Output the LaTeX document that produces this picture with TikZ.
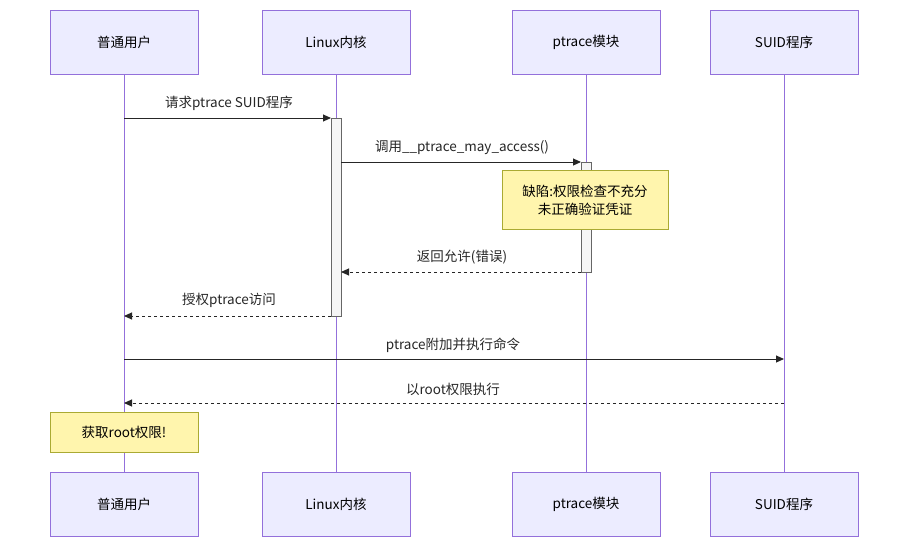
\documentclass[tikz,border=0pt]{standalone}
\usepackage{fontspec}
\setmainfont{Noto Sans CJK SC}
\usetikzlibrary{arrows.meta}
\definecolor{actf}{HTML}{ECECFF}
\definecolor{actd}{HTML}{9370DB}
\definecolor{notef}{HTML}{FFF5AD}
\definecolor{noted}{HTML}{AAAA33}
\begin{document}
\begin{tikzpicture}[x=1pt,y=-1pt,
  actor/.style={draw=actd,fill=actf,minimum width=148pt,minimum height=64pt,inner sep=0,font=\fontsize{13.5}{16}\selectfont},
  life/.style={draw=actd,line width=1pt},
  act/.style={draw=black!60,fill=black!4},
  msg/.style={line width=1pt,-{Triangle[length=8pt,width=7pt]},draw=black!85},
  dmsg/.style={msg,dash pattern=on 3pt off 3pt},
  lbl/.style={font=\fontsize{13.5}{16}\selectfont,text=black!85},
  note/.style={draw=noted,fill=notef,inner sep=0,align=center,font=\fontsize{13.5}{18}\selectfont}]
\useasboundingbox (0,0) rectangle (916,552);
\foreach \n/\x/\t in {u/124/普通用户,k/336/Linux内核,p/586/ptrace模块,s/784/SUID程序}{
  \draw[life] (\x,74) -- (\x,472);
  \node[actor] (\n top) at (\x,42) {\t};
  \node[actor] (\n bot) at (\x,504) {\t};
}
\draw[act] (331,118) rectangle (341,316);
\draw[act] (581,162) rectangle (591,272);
\coordinate (m1a) at (124,118); \coordinate (m1b) at (331,118);
\draw[msg] (m1a) -- (m1b);
\node[lbl] at (229,103) {请求ptrace SUID程序};
\coordinate (m2a) at (341,162); \coordinate (m2b) at (581,162);
\draw[msg] (m2a) -- (m2b);
\node[lbl] at (462,148) {调用\_\_ptrace\_may\_access()};
\node[note,minimum width=166pt,minimum height=59pt] (n1) at (585,200) {缺陷:权限检查不充分\\未正确验证凭证};
\coordinate (m3a) at (581,272); \coordinate (m3b) at (341,272);
\draw[dmsg] (m3a) -- (m3b);
\node[lbl] at (462,257) {返回允许(错误)};
\coordinate (m4a) at (331,316); \coordinate (m4b) at (124,316);
\draw[dmsg] (m4a) -- (m4b);
\node[lbl] at (229,300) {授权ptrace访问};
\coordinate (m5a) at (124,359); \coordinate (m5b) at (784,359);
\draw[msg] (m5a) -- (m5b);
\node[lbl] at (453,345) {ptrace附加并执行命令};
\coordinate (m6a) at (784,403); \coordinate (m6b) at (124,403);
\draw[dmsg] (m6a) -- (m6b);
\node[lbl] at (453,389) {以root权限执行};
\node[note,minimum width=148pt,minimum height=40pt] (n2) at (124,432) {获取root权限!};
\end{tikzpicture}
\end{document}
